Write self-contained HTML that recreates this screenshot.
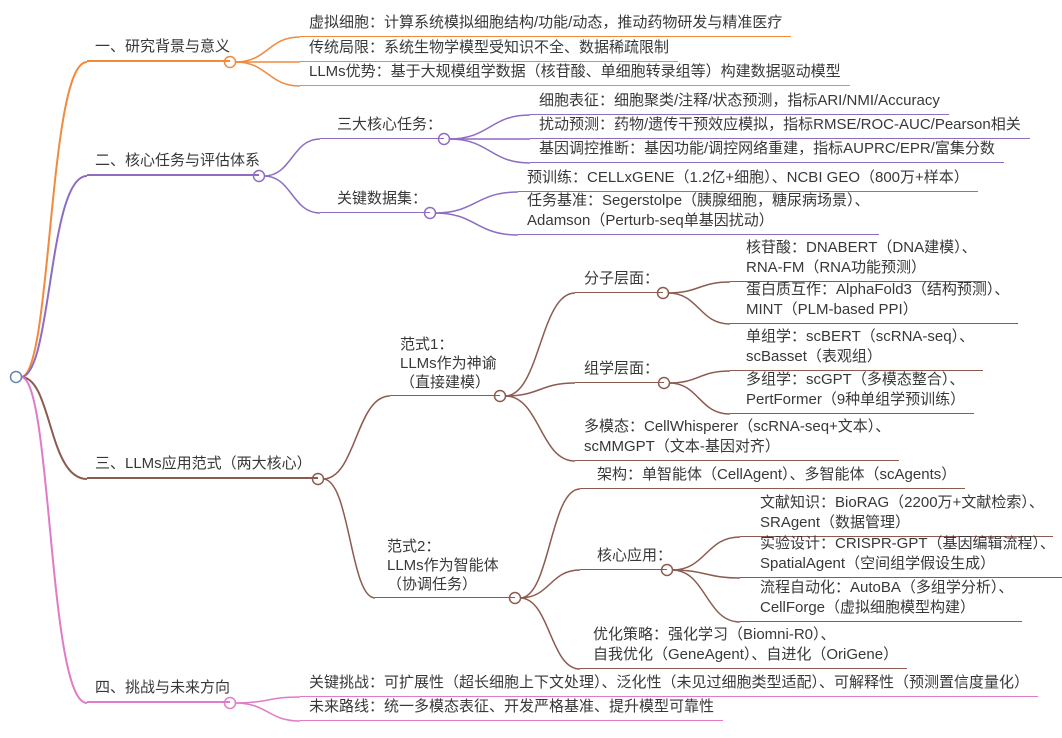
<!DOCTYPE html>
<html><head><meta charset="utf-8">
<style>
html,body{margin:0;padding:0;background:#fff;}
#c{position:relative;width:1062px;height:738px;overflow:hidden;font-family:"Liberation Sans","Noto Sans CJK SC",sans-serif;font-size:15px;color:#383838;}
svg{position:absolute;left:0;top:0;}
.n{position:absolute;box-sizing:border-box;padding:0 9px 3px 9px;line-height:20px;white-space:nowrap;border-bottom:1.5px solid;}
.o{border-color:#f08a3c}.p{border-color:#8e6cc2}.b{border-color:#8c5b4f}.k{border-color:#e07bc9}
.m{border-bottom-width:2px}
</style></head><body><div id="c">
<svg width="1062" height="738" fill="none" stroke-width="1.5">
<path d="M21 377 C52 377,48 62,87 62" stroke="#f08a3c" stroke-width="2"/>
<path d="M21 377 C52 377,48 176,87 176" stroke="#8e6cc2" stroke-width="2"/>
<path d="M21 377 C52 377,48 479,87 479" stroke="#8c5b4f" stroke-width="2"/>
<path d="M21 377 C52 377,48 703,87 703" stroke="#e07bc9" stroke-width="2"/>
<g stroke="#f08a3c">
<path d="M235 62 C268 62,268 37,300 37"/><path d="M235 62 L300 62"/><path d="M235 62 C268 62,268 86,300 86"/>
<circle cx="230" cy="62" r="5.5" fill="#fff"/></g>
<g stroke="#8e6cc2">
<path d="M264 176 C292 176,292 139,320 139"/><path d="M264 176 C292 176,292 213,320 213"/>
<path d="M449 139 C490 139,490 115,530 115"/><path d="M449 139 L530 139"/><path d="M449 139 C490 139,490 163,530 163"/>
<path d="M435 213 C476 213,476 192,518 192"/><path d="M435 213 C476 213,476 235,518 235"/>
<circle cx="259" cy="176" r="5.5" fill="#fff"/><circle cx="444" cy="139" r="5.5" fill="#fff"/><circle cx="430" cy="213" r="5.5" fill="#fff"/></g>
<g stroke="#8c5b4f">
<path d="M323 479 C356 479,356 396,390 396"/><path d="M323 479 C350 479,350 598,375 598"/>
<path d="M505 396 C540 396,540 293,575 293"/><path d="M505 396 C540 396,540 383,575 383"/><path d="M505 396 C540 396,540 461,575 461"/>
<path d="M668 293 C699 293,699 282,730 282"/><path d="M668 293 C699 293,699 324,730 324"/>
<path d="M669 383 C699 383,699 371,730 371"/><path d="M669 383 C699 383,699 414,730 414"/>
<path d="M520 598 C550 598,550 489,580 489"/><path d="M520 598 C550 598,550 570,580 570"/><path d="M520 598 C550 598,550 669,580 669"/>
<path d="M672 570 C706 570,706 537,740 537"/><path d="M672 570 C706 570,706 578,740 578"/><path d="M672 570 C706 570,706 622,740 622"/>
<circle cx="318" cy="479" r="5.5" fill="#fff"/><circle cx="500" cy="396" r="5.5" fill="#fff"/><circle cx="515" cy="598" r="5.5" fill="#fff"/>
<circle cx="663" cy="293" r="5.5" fill="#fff"/><circle cx="664" cy="383" r="5.5" fill="#fff"/><circle cx="667" cy="570" r="5.5" fill="#fff"/></g>
<g stroke="#e07bc9">
<path d="M235 703 C268 703,268 697,300 697"/><path d="M235 703 C268 703,268 721,300 721"/>
<circle cx="230" cy="703" r="5.5" fill="#fff"/></g>
<circle cx="16" cy="377" r="5.5" fill="#fff" stroke="#5f86ad"/>
</svg>

<div class="n o m" style="left:87px;bottom:676px;width:143px;padding-left:8px">一、研究背景与意义</div>
<div class="n o" style="left:300px;bottom:701px">虚拟细胞：计算系统模拟细胞结构/功能/动态，推动药物研发与精准医疗</div>
<div class="n o" style="left:300px;bottom:676px">传统局限：系统生物学模型受知识不全、数据稀疏限制</div>
<div class="n o" style="left:300px;bottom:652px">LLMs优势：基于大规模组学数据（核苷酸、单细胞转录组等）构建数据驱动模型</div>

<div class="n p m" style="left:87px;bottom:562px;width:172px;padding-left:8px">二、核心任务与评估体系</div>
<div class="n p" style="left:320px;bottom:599px;width:124px;padding-left:17px">三大核心任务：</div>
<div class="n p" style="left:320px;bottom:525px;width:110px;padding-left:17px">关键数据集：</div>
<div class="n p" style="left:530px;bottom:623px">细胞表征：细胞聚类/注释/状态预测，指标ARI/NMI/Accuracy</div>
<div class="n p" style="left:530px;bottom:599px">扰动预测：药物/遗传干预效应模拟，指标RMSE/ROC-AUC/Pearson相关</div>
<div class="n p" style="left:530px;bottom:575px">基因调控推断：基因功能/调控网络重建，指标AUPRC/EPR/富集分数</div>
<div class="n p" style="left:518px;bottom:546px">预训练：CELLxGENE（1.2亿+细胞）、NCBI GEO（800万+样本）</div>
<div class="n p" style="left:518px;bottom:503px">任务基准：Segerstolpe（胰腺细胞，糖尿病场景）、<br>Adamson（Perturb-seq单基因扰动）</div>

<div class="n b m" style="left:87px;bottom:259px;width:231px;padding-left:8px">三、LLMs应用范式（两大核心）</div>
<div class="n b" style="left:390px;bottom:342px;width:110px;padding-left:10px;line-height:19px">范式1：<br>LLMs作为神谕<br>（直接建模）</div>
<div class="n b" style="left:375px;bottom:140px;width:140px;padding-left:12px;line-height:19px">范式2：<br>LLMs作为智能体<br>（协调任务）</div>
<div class="n b" style="left:575px;bottom:445px;width:88px">分子层面：</div>
<div class="n b" style="left:575px;bottom:355px;width:89px">组学层面：</div>
<div class="n b" style="left:730px;bottom:456px;padding-left:16px">核苷酸：DNABERT（DNA建模）、<br>RNA-FM（RNA功能预测）</div>
<div class="n b" style="left:730px;bottom:414px;padding-left:16px">蛋白质互作：AlphaFold3（结构预测）、<br>MINT（PLM-based PPI）</div>
<div class="n b" style="left:730px;bottom:367px;padding-left:16px">单组学：scBERT（scRNA-seq）、<br>scBasset（表观组）</div>
<div class="n b" style="left:730px;bottom:324px;padding-left:16px">多组学：scGPT（多模态整合）、<br>PertFormer（9种单组学预训练）</div>
<div class="n b" style="left:575px;bottom:277px">多模态：CellWhisperer（scRNA-seq+文本）、<br>scMMGPT（文本-基因对齐）</div>
<div class="n b" style="left:580px;bottom:249px;padding-left:17px">架构：单智能体（CellAgent）、多智能体（scAgents）</div>
<div class="n b" style="left:580px;bottom:168px;width:87px;padding-left:17px">核心应用：</div>
<div class="n b" style="left:740px;bottom:201px;padding-left:20px">文献知识：BioRAG（2200万+文献检索）、<br>SRAgent（数据管理）</div>
<div class="n b" style="left:740px;bottom:160px;padding-left:20px">实验设计：CRISPR-GPT（基因编辑流程）、<br>SpatialAgent（空间组学假设生成）</div>
<div class="n b" style="left:740px;bottom:116px;padding-left:20px">流程自动化：AutoBA（多组学分析）、<br>CellForge（虚拟细胞模型构建）</div>
<div class="n b" style="left:580px;bottom:69px;padding-left:13px">优化策略：强化学习（Biomni-R0）、<br>自我优化（GeneAgent）、自进化（OriGene）</div>

<div class="n k m" style="left:87px;bottom:35px;width:143px;padding-left:8px">四、挑战与未来方向</div>
<div class="n k" style="left:300px;bottom:41px">关键挑战：可扩展性（超长细胞上下文处理）、泛化性（未见过细胞类型适配）、可解释性（预测置信度量化）</div>
<div class="n k" style="left:300px;bottom:17px">未来路线：统一多模态表征、开发严格基准、提升模型可靠性</div>
</div></body></html>
